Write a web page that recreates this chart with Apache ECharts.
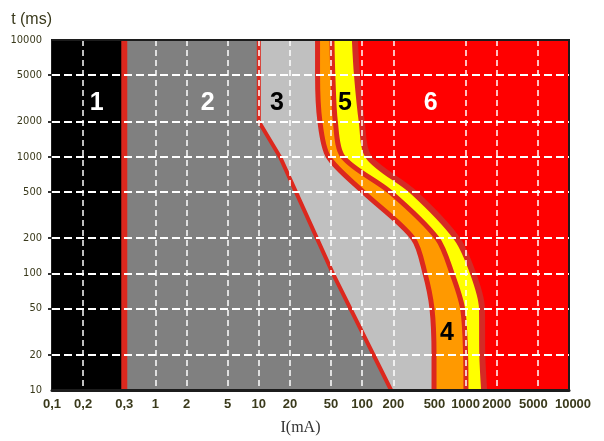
<!DOCTYPE html>
<html>
<head>
<meta charset="utf-8">
<script src="https://cdn.jsdelivr.net/npm/echarts@6/dist/echarts.min.js"></script>
<style>
  html, body { margin: 0; padding: 0; background: #fff; }
  #chart { width: 604px; height: 441px; }
</style>
</head>
<body>
<div id="chart"></div>
<script>
// current (mA) ticks; the source prints "0,3" on the 0.5 mA line
const currentTicks = [0.1, 0.2, 0.5, 1, 2, 5, 10, 20, 50, 100, 200, 500, 1000, 2000, 5000, 10000];
const currentTickLabels = ['0,1', '0,2', '0,3', '1', '2', '5', '10', '20', '50', '100', '200', '500', '1000', '2000', '5000', '10000'];
const currentGrid = [0.2, 1, 2, 5, 10, 20, 50, 100, 200, 1000, 2000, 5000];
const timeTicks = [10, 20, 50, 100, 200, 500, 1000, 2000, 5000, 10000];
const timeGrid = [20, 50, 100, 200, 500, 1000, 2000, 5000];

// curves c1 / c2 / c3, current (mA) read at these durations (ms)
const curveTimes = [10000, 5000, 2000, 1000, 500, 200, 100, 50, 20, 10];
const curveC1 = [37, 37, 39, 47, 102, 310, 405, 473, 495, 495];
const curveC2 = [51, 52, 55, 65, 186, 530, 739, 935, 1000, 1008];
const curveC3 = [85, 89, 99, 115, 310, 820, 1180, 1440, 1450, 1510];

// curve b: straight down at 10 mA to 2 s, then a straight fall
const curveBTimes = [10000, 2000, 1000, 100, 10];
const curveB = [10, 10, 16, 52, 190];

// curve a
const curveATimes = [10000, 10];
const curveA = [0.5, 0.5];

// zone numbers
const zoneNames = ['1', '2', '3', '4', '5', '6'];
const zoneCurrent = [0.27, 3.2, 15, 660, 68, 460];
const zoneTime = [2900, 2900, 2900, 31, 2900, 2900];

const zoneTextColor = { '1': '#ffffff', '2': '#ffffff', '3': '#000000', '4': '#000000', '5': '#000000', '6': '#ffffff' };
const LINE_RED = '#dc281e';
const TEXT = '#3a3a1c';

const pts = (xs, ts) => xs.map((x, i) => [x, ts[i]]);

// fill left of a curve: area under it, led in from above the top edge
function zoneArea(xs, ts, color, smooth) {
  const lead = [[0.1, 20000], [xs[0], 20000]];
  return {
    type: 'line',
    data: lead.concat(pts(xs, ts)),
    smooth: smooth,
    symbol: 'none',
    silent: true,
    lineStyle: { width: 0 },
    areaStyle: { color: color, opacity: 1, origin: 'start' }
  };
}

function boundary(xs, ts, width, color, smooth) {
  return {
    type: 'line',
    data: pts(xs, ts),
    smooth: smooth,
    symbol: 'none',
    silent: true,
    lineStyle: { width: width, color: color }
  };
}

// the last two labels sit a little apart in the source
function tickText(v) {
  const i = currentTicks.findIndex(t => Math.abs(Math.log10(t) - Math.log10(v)) < 1e-6);
  if (i < 0) return '';
  const txt = currentTickLabels[i];
  if (i === currentTicks.length - 2) return '{l|' + txt + '}';
  if (i === currentTicks.length - 1) return '{r|' + txt + '}';
  return txt;
}

const labelFont = { fontFamily: 'Liberation Sans', fontWeight: 'bold', fontSize: 13, color: TEXT };

const chart = echarts.init(document.getElementById('chart'));

chart.setOption({
  animation: false,
  grid: {
    left: 52, right: 35, top: 40, bottom: 38,
    show: true,
    backgroundColor: '#ff0000',
    borderColor: '#1c1c1c',
    borderWidth: 2
  },
  xAxis: [
    {
      type: 'log',
      logBase: 10,
      min: 0.1,
      max: 10000,
      z: 5,
      name: 'I(mA)',
      nameLocation: 'middle',
      nameGap: 30,
      nameTextStyle: {
        fontFamily: 'Liberation Serif', fontSize: 16, color: '#333',
        padding: [0, 20, 0, 0]
      },
      axisLine: { show: true, lineStyle: { color: '#1c1c1c', width: 3 } },
      axisTick: { show: false, customValues: currentGrid },
      axisLabel: Object.assign({
        customValues: currentTicks,
        formatter: tickText,
        showMinLabel: true,
        showMaxLabel: true,
        hideOverlap: false,
        margin: 8,
        rich: {
          l: Object.assign({ padding: [0, 9, 0, 0] }, labelFont),
          r: Object.assign({ padding: [0, 0, 0, 8] }, labelFont)
        }
      }, labelFont),
      splitLine: { show: true, lineStyle: { color: '#fff', width: 1.5, type: [6, 4] } }
    },
    {
      type: 'log',
      logBase: 10,
      min: 0.1,
      max: 10000,
      position: 'top',
      z: 5,
      axisLine: { show: true, lineStyle: { color: '#1c1c1c', width: 2 } },
      axisTick: { show: false },
      axisLabel: { show: false },
      splitLine: { show: false }
    }
  ],
  yAxis: {
    type: 'log',
    logBase: 10,
    min: 10,
    max: 10000,
    z: 5,
    name: 't (ms)',
    nameLocation: 'end',
    nameGap: 12,
    nameTextStyle: { align: 'right', fontFamily: 'Liberation Sans', fontSize: 16, color: TEXT },
    axisLine: { show: false },
    axisTick: { show: true, length: 4, customValues: timeGrid, lineStyle: { color: '#333', width: 2 } },
    axisLabel: {
      customValues: timeTicks,
      formatter: v => String(Math.round(v)),
      fontFamily: 'Liberation Sans Narrow, DejaVu Sans Condensed, sans-serif',
      fontSize: 11,
      color: TEXT,
      margin: 10
    },
    splitLine: { show: true, lineStyle: { color: '#fff', width: 2, type: [8, 4] } }
  },
  series: [
    zoneArea(curveC3, curveTimes, '#ffff00', 0.3),
    zoneArea(curveC2, curveTimes, '#ff9900', 0.3),
    zoneArea(curveC1, curveTimes, '#c0c0c0', 0.3),
    zoneArea(curveB, curveBTimes, '#808080', false),
    zoneArea(curveA, curveATimes, '#000000', false),
    boundary(curveC3, curveTimes, 6, '#d42a26', 0.3),
    boundary(curveC2, curveTimes, 5, LINE_RED, 0.3),
    boundary(curveC1, curveTimes, 5, LINE_RED, 0.3),
    boundary(curveB, curveBTimes, 4, LINE_RED, false),
    boundary(curveA, curveATimes, 6, LINE_RED, false),
    {
      type: 'scatter',
      z: 6,
      silent: true,
      symbolSize: 1,
      itemStyle: { color: 'transparent' },
      data: zoneNames.map((n, i) => ({
        name: n,
        value: [zoneCurrent[i], zoneTime[i]],
        label: { color: zoneTextColor[n] }
      })),
      label: {
        show: true,
        position: 'inside',
        formatter: '{b}',
        fontFamily: 'Liberation Sans',
        fontWeight: 'bold',
        fontSize: 25,
        textBorderWidth: 0,
        opacity: 1
      }
    }
  ]
});
</script>
</body>
</html>
